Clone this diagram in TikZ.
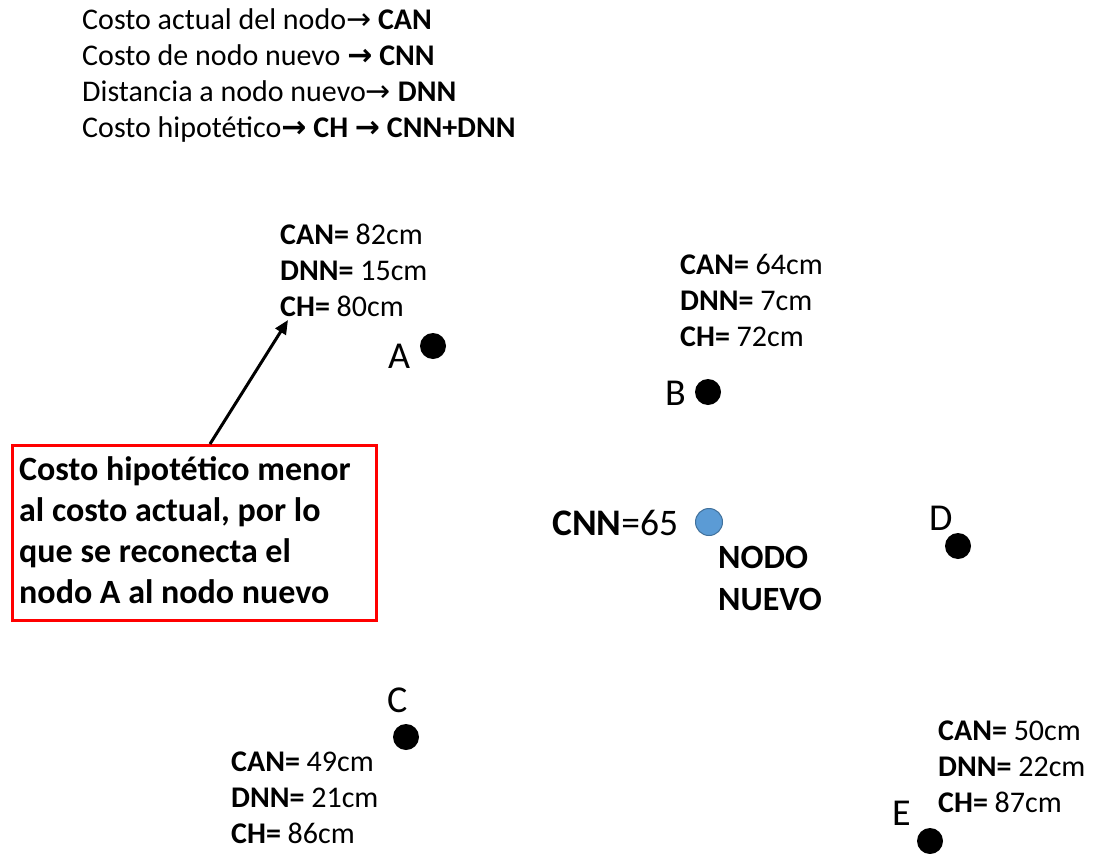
\documentclass[tikz,border=0pt]{standalone}
\usepackage{fontspec}
\setmainfont{Carlito}
\newfontfamily\arrowfont{DejaVu Sans}
\usetikzlibrary{arrows.meta}
\newcommand{\ra}{{\arrowfont\mdseries →}}
\newcommand{\rab}{{\arrowfont\bfseries →}}
\begin{document}
\begin{tikzpicture}[x=1pt,y=-1pt,
  txt/.style={anchor=base west,inner sep=0pt,font=\fontsize{30}{36}\selectfont},
  info/.style={anchor=base west,inner sep=0pt,align=left,font=\fontsize{30}{36}\selectfont},
  letter/.style={anchor=base west,inner sep=0pt,font=\fontsize{38}{44}\selectfont},
  dot/.style={circle,fill=black,minimum size=26pt,inner sep=0pt},
  newdot/.style={circle,fill={rgb,255:red,91;green,155;blue,213},draw={rgb,255:red,65;green,113;blue,156},line width=1pt,minimum size=27pt,inner sep=0pt},
  note/.style={draw=red,line width=3pt,anchor=north west,minimum width=364pt,minimum height=175pt,inner sep=0pt},
  pointer/.style={line width=3pt,-{Triangle[length=14pt,width=12pt]}}]
\useasboundingbox (0,0) rectangle (1096,854);

% legend
\node[txt] (l1) at (82,29) {Costo actual del nodo\ra{} \textbf{CAN}};
\node[txt] (l2) at (82,65) {Costo de nodo nuevo \rab{} \textbf{CNN}};
\node[txt] (l3) at (82,101) {Distancia a nodo nuevo\ra{} \textbf{DNN}};
\node[txt] (l4) at (82,137) {Costo hipotético\rab{} \textbf{CH} \rab{} \textbf{CNN+DNN}};

% nodes
\node[dot] (A) at (433,346) {};
\node[dot] (B) at (708,392) {};
\node[dot] (C) at (406,737) {};
\node[dot] (D) at (958,546) {};
\node[dot] (E) at (930,841) {};
\node[newdot] (N) at (709,522) {};

% node letters
\node[letter] (lA) at (388,368) {A};
\node[letter] (lB) at (665,405) {B};
\node[letter] (lC) at (387,712) {C};
\node[letter] (lD) at (929,530) {D};
\node[letter] (lE) at (892,825) {E};

% cost labels (anchored on the baseline of their last line)
\node[info] (iA) at (280,316) {\textbf{CAN=} 82cm\\\textbf{DNN=} 15cm\\\textbf{CH=} 80cm};
\node[info] (iB) at (680,346) {\textbf{CAN=} 64cm\\\textbf{DNN=} 7cm\\\textbf{CH=} 72cm};
\node[info] (iC) at (231,843) {\textbf{CAN=} 49cm\\\textbf{DNN=} 21cm\\\textbf{CH=} 86cm};
\node[info] (iE) at (938,812) {\textbf{CAN=} 50cm\\\textbf{DNN=} 22cm\\\textbf{CH=} 87cm};

% new node labels
\node[anchor=base west,inner sep=0pt,font=\fontsize{37.5}{42}\selectfont] (cnn) at (552,535) {\textbf{CNN}=65};
\node[anchor=base west,inner sep=0pt,align=left,font=\bfseries\fontsize{34}{42}\selectfont] (nn) at (718,610) {NODO\\NUEVO};

% note box
\node[note] (box) at (11,444) {};
\node[anchor=base west,inner sep=0pt,align=left,font=\bfseries\fontsize{34}{41}\selectfont] (boxtext) at (19,603)
  {Costo hipotético menor\\al costo actual, por lo\\que se reconecta el\\nodo A al nodo nuevo};
\coordinate (tip) at (288,320);
\draw[pointer] ([xshift=199pt]box.north west) -- (tip);
\end{tikzpicture}
\end{document}
